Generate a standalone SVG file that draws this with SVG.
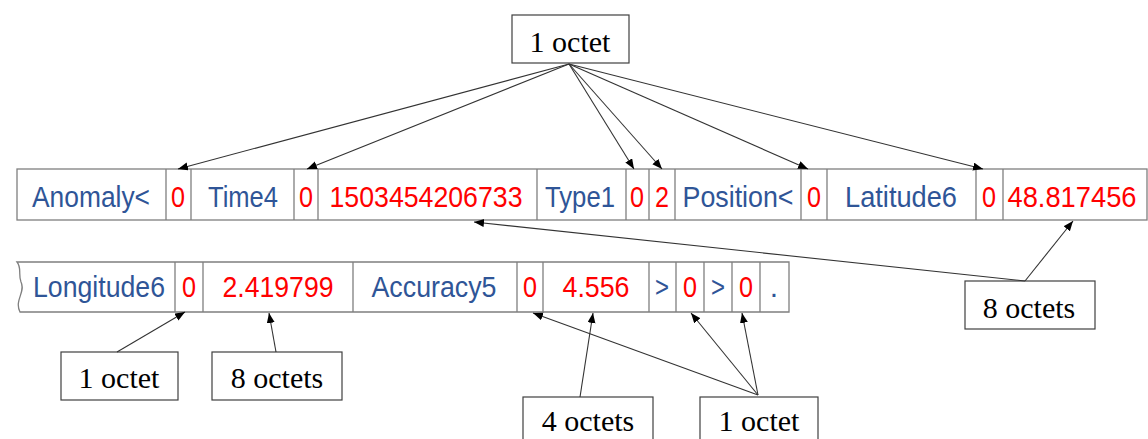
<svg xmlns="http://www.w3.org/2000/svg" width="1148" height="439" viewBox="0 0 1148 439">
  <style>
    .cell { fill: #ffffff; stroke: #7f7f7f; stroke-width: 1.3; }
    .sep { stroke: #7f7f7f; stroke-width: 1.3; }
    .lbl { font-family: "Liberation Sans", Arial, sans-serif; font-size: 30px; fill: #2f5597; text-anchor: middle; }
    .val { font-family: "Liberation Sans", Arial, sans-serif; font-size: 30px; fill: #ff0000; text-anchor: middle; }
    .box { fill: #ffffff; stroke: #404040; stroke-width: 1.2; }
    .note { font-family: "Liberation Serif", "Times New Roman", serif; font-size: 30px; fill: #000000; text-anchor: middle; }
    .conn { stroke: #333333; stroke-width: 1.1; fill: none; marker-end: url(#arrow); }
  </style>
  <defs>
    <marker id="arrow" markerUnits="userSpaceOnUse" markerWidth="12" markerHeight="10" refX="10" refY="4" orient="auto">
      <path d="M0,0 L10,4 L0,8 Z" fill="#000000"/>
    </marker>
  </defs>
  <rect width="1148" height="439" fill="#ffffff"/>

  <!-- first record row -->
  <g id="row1">
    <rect class="cell" x="17" y="169" width="1130" height="51"/>
    <line class="sep" x1="166" y1="169" x2="166" y2="220"/>
    <line class="sep" x1="191" y1="169" x2="191" y2="220"/>
    <line class="sep" x1="294" y1="169" x2="294" y2="220"/>
    <line class="sep" x1="318" y1="169" x2="318" y2="220"/>
    <line class="sep" x1="537" y1="169" x2="537" y2="220"/>
    <line class="sep" x1="626" y1="169" x2="626" y2="220"/>
    <line class="sep" x1="649" y1="169" x2="649" y2="220"/>
    <line class="sep" x1="675" y1="169" x2="675" y2="220" stroke="#222222"/>
    <line class="sep" x1="801" y1="169" x2="801" y2="220"/>
    <line class="sep" x1="827" y1="169" x2="827" y2="220"/>
    <line class="sep" x1="976" y1="169" x2="976" y2="220"/>
    <line class="sep" x1="1003" y1="169" x2="1003" y2="220"/>
    <text class="lbl" x="91" y="207" textLength="118" lengthAdjust="spacingAndGlyphs">Anomaly&lt;</text>
    <text class="val" x="178" y="207" textLength="14" lengthAdjust="spacingAndGlyphs">0</text>
    <text class="lbl" x="243" y="207" textLength="70" lengthAdjust="spacingAndGlyphs">Time4</text>
    <text class="val" x="306" y="207" textLength="14" lengthAdjust="spacingAndGlyphs">0</text>
    <text class="val" x="426" y="207" textLength="193" lengthAdjust="spacingAndGlyphs">1503454206733</text>
    <text class="lbl" x="580" y="207" textLength="70" lengthAdjust="spacingAndGlyphs">Type1</text>
    <text class="val" x="637" y="207" textLength="14" lengthAdjust="spacingAndGlyphs">0</text>
    <text class="val" x="662" y="207" textLength="14" lengthAdjust="spacingAndGlyphs">2</text>
    <text class="lbl" x="738" y="207" textLength="111" lengthAdjust="spacingAndGlyphs">Position&lt;</text>
    <text class="val" x="814" y="207" textLength="14" lengthAdjust="spacingAndGlyphs">0</text>
    <text class="lbl" x="901" y="207" textLength="112" lengthAdjust="spacingAndGlyphs">Latitude6</text>
    <text class="val" x="989" y="207" textLength="14" lengthAdjust="spacingAndGlyphs">0</text>
    <text class="val" x="1072" y="207" textLength="129" lengthAdjust="spacingAndGlyphs">48.817456</text>
  </g>

  <!-- second record row, torn on the left -->
  <g id="row2">
    <path class="cell" d="M17,262 L789,262 L789,312 L20,312 C14,300 26,292 21,282 C18,274 22,268 17,262 Z"/>
    <line class="sep" x1="175" y1="262" x2="175" y2="312"/>
    <line class="sep" x1="203" y1="262" x2="203" y2="312"/>
    <line class="sep" x1="353" y1="262" x2="353" y2="312"/>
    <line class="sep" x1="517" y1="262" x2="517" y2="312"/>
    <line class="sep" x1="543" y1="262" x2="543" y2="312"/>
    <line class="sep" x1="649" y1="262" x2="649" y2="312"/>
    <line class="sep" x1="676" y1="262" x2="676" y2="312"/>
    <line class="sep" x1="704" y1="262" x2="704" y2="312"/>
    <line class="sep" x1="732" y1="262" x2="732" y2="312"/>
    <line class="sep" x1="760" y1="262" x2="760" y2="312"/>
    <text class="lbl" x="99" y="297" textLength="132" lengthAdjust="spacingAndGlyphs">Longitude6</text>
    <text class="val" x="189" y="297" textLength="14" lengthAdjust="spacingAndGlyphs">0</text>
    <text class="val" x="278" y="297" textLength="111" lengthAdjust="spacingAndGlyphs">2.419799</text>
    <text class="lbl" x="434" y="297" textLength="125" lengthAdjust="spacingAndGlyphs">Accuracy5</text>
    <text class="val" x="530" y="297" textLength="14" lengthAdjust="spacingAndGlyphs">0</text>
    <text class="val" x="596" y="297" textLength="67" lengthAdjust="spacingAndGlyphs">4.556</text>
    <text class="lbl" x="662" y="297" textLength="14" lengthAdjust="spacingAndGlyphs">&gt;</text>
    <text class="val" x="690" y="297" textLength="14" lengthAdjust="spacingAndGlyphs">0</text>
    <text class="lbl" x="718" y="297" textLength="14" lengthAdjust="spacingAndGlyphs">&gt;</text>
    <text class="val" x="746" y="297" textLength="14" lengthAdjust="spacingAndGlyphs">0</text>
    <text class="lbl" x="774" y="297">.</text>
  </g>

  <!-- size annotation boxes -->
  <g id="top-1-octet">
    <rect class="box" x="512" y="15" width="117" height="48"/>
    <text class="note" x="570" y="52">1 octet</text>
  </g>
  <g id="right-8-octets">
    <rect class="box" x="965" y="281" width="130" height="48"/>
    <text class="note" x="1029" y="318">8 octets</text>
  </g>
  <g id="left-1-octet">
    <rect class="box" x="61" y="352" width="117" height="48"/>
    <text class="note" x="119" y="388">1 octet</text>
  </g>
  <g id="left-8-octets">
    <rect class="box" x="212" y="352" width="130" height="48"/>
    <text class="note" x="277" y="388">8 octets</text>
  </g>
  <g id="bottom-4-octets">
    <rect class="box" x="523" y="397" width="130" height="48"/>
    <text class="note" x="588" y="431">4 octets</text>
  </g>
  <g id="bottom-1-octet">
    <rect class="box" x="700" y="397" width="118" height="48"/>
    <text class="note" x="759" y="431">1 octet</text>
  </g>

  <!-- connectors -->
  <g id="connectors">
    <line class="conn" x1="569" y1="64" x2="178" y2="169"/>
    <line class="conn" x1="569" y1="64" x2="307" y2="169"/>
    <line class="conn" x1="569" y1="64" x2="634" y2="169"/>
    <line class="conn" x1="569" y1="64" x2="662" y2="169"/>
    <line class="conn" x1="569" y1="64" x2="808" y2="169"/>
    <line class="conn" x1="569" y1="64" x2="983" y2="169"/>
    <line class="conn" x1="1025" y1="281" x2="1073" y2="221"/>
    <line class="conn" x1="1025" y1="281" x2="474" y2="222"/>
    <line class="conn" x1="117" y1="352" x2="185" y2="312"/>
    <line class="conn" x1="276" y1="352" x2="269" y2="313"/>
    <line class="conn" x1="580" y1="397" x2="593" y2="313"/>
    <line class="conn" x1="758" y1="395" x2="533" y2="313"/>
    <line class="conn" x1="758" y1="395" x2="691" y2="313"/>
    <line class="conn" x1="758" y1="395" x2="742" y2="313"/>
  </g>
</svg>
